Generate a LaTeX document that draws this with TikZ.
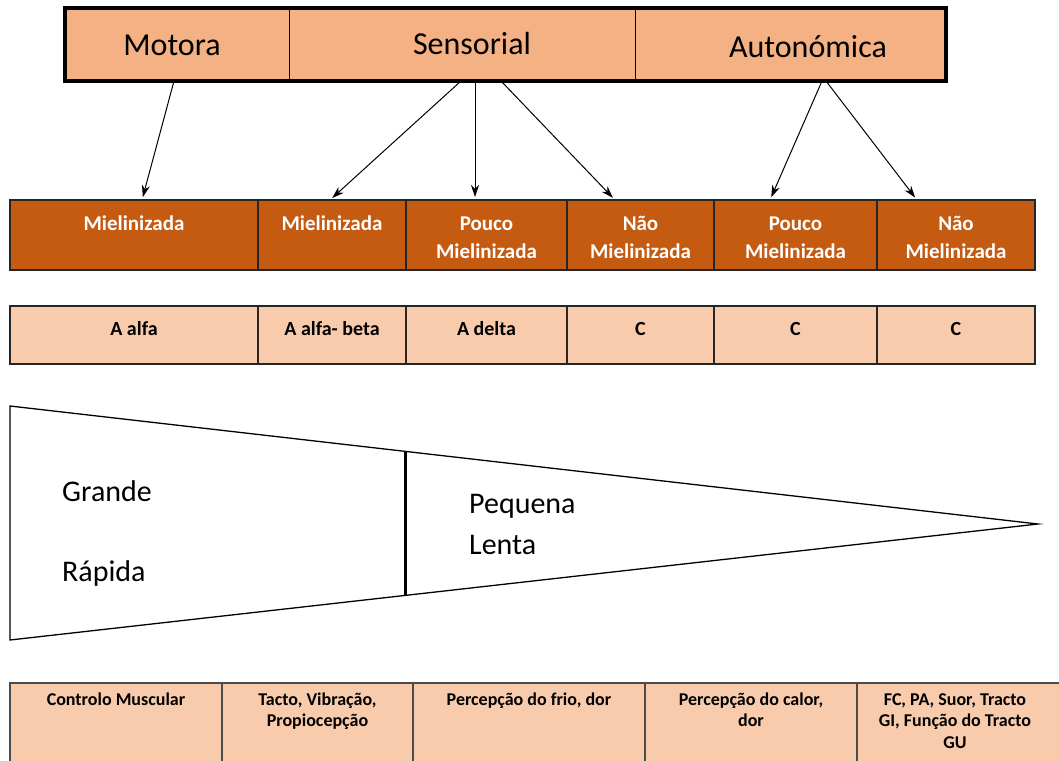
\documentclass[tikz,border=0pt]{standalone}
\usepackage{fontspec}
\setmainfont{Carlito}
\usetikzlibrary{arrows.meta,calc}
\definecolor{topfill}{HTML}{F4B183}
\definecolor{darkor}{HTML}{C55A11}
\definecolor{peach}{HTML}{F8CBAD}
\tikzset{
  topcell/.style={draw=black, line width=1pt, fill=topfill, minimum height=73pt, inner sep=0pt, outer sep=0pt},
  midcell/.style={draw=black!85, line width=1.8pt, fill=darkor, minimum height=70pt, inner sep=0pt, outer sep=0pt},
  typecell/.style={draw=black!85, line width=1.8pt, fill=peach, minimum height=58pt, inner sep=0pt, outer sep=0pt},
  funccell/.style={draw=black!70, line width=1.8pt, fill=peach, minimum height=107pt, inner sep=0pt, outer sep=0pt},
  toplabel/.style={font=\fontsize{32}{38}\selectfont, anchor=base, inner sep=0pt},
  midtext/.style={font=\bfseries\fontsize{21}{28}\selectfont, text=white, align=center, anchor=north, inner sep=0pt},
  typetext/.style={font=\bfseries\fontsize{20}{26}\selectfont, align=center, anchor=north, inner sep=0pt},
  functext/.style={font=\bfseries\fontsize{18}{21.5}\selectfont, align=center, anchor=north, inner sep=0pt},
  bigtext/.style={font=\fontsize{30}{36}\selectfont, anchor=base west, inner sep=0pt},
  arr/.style={-{Stealth[length=12pt,width=8pt]}, line width=1pt, shorten >=3pt},
}
\newcommand{\fs}[1]{\rule{0pt}{#1}}
\begin{document}
\begin{tikzpicture}[x=1pt,y=-1pt]
\useasboundingbox (0,0) rectangle (1059,760);
\clip (0,0) rectangle (1059,760);
\fill[white] (0,0) rectangle (1059,760);

% top row
\node[topcell, minimum width=224pt] (mot) at (177,44.5) {};
\node[topcell, minimum width=346pt] (sen) at (462,44.5) {};
\node[topcell, minimum width=311pt] (aut) at (790.5,44.5) {};
\draw[line width=3.5pt] (mot.north west) rectangle (aut.south east);
\node[toplabel] (tmot) at (172,56) {Motora};
\node[toplabel] (tsen) at (472,55) {Sensorial};
\node[toplabel] (taut) at (808,57) {Autonómica};

% second row
\node[midcell, minimum width=248pt] (m1) at (134,235) {};
\node[midcell, minimum width=148pt] (m2) at (332,235) {};
\node[midcell, minimum width=161pt] (m3) at (486.5,235) {};
\node[midcell, minimum width=147pt] (m4) at (640.5,235) {};
\node[midcell, minimum width=163pt] (m5) at (795.5,235) {};
\node[midcell, minimum width=158pt] (m6) at (956,235) {};
\node[midtext] (tm1) at ([yshift=-15pt]m1.north) {\fs{15pt}Mielinizada};
\node[midtext] (tm2) at ([yshift=-15pt]m2.north) {\fs{15pt}Mielinizada};
\node[midtext] (tm3) at ([yshift=-15pt]m3.north) {\fs{15pt}Pouco\\Mielinizada};
\node[midtext] (tm4) at ([yshift=-15pt]m4.north) {\fs{15pt}Não\\Mielinizada};
\node[midtext] (tm5) at ([yshift=-15pt]m5.north) {\fs{15pt}Pouco\\Mielinizada};
\node[midtext] (tm6) at ([yshift=-15pt]m6.north) {\fs{15pt}Não\\Mielinizada};

% third row
\node[typecell, minimum width=248pt] (a1) at (134,335) {};
\node[typecell, minimum width=148pt] (a2) at (332,335) {};
\node[typecell, minimum width=161pt] (a3) at (486.5,335) {};
\node[typecell, minimum width=147pt] (a4) at (640.5,335) {};
\node[typecell, minimum width=163pt] (a5) at (795.5,335) {};
\node[typecell, minimum width=158pt] (a6) at (956,335) {};
\node[typetext] (ta1) at ([yshift=-14pt]a1.north) {\fs{15pt}A alfa};
\node[typetext] (ta2) at ([yshift=-14pt]a2.north) {\fs{15pt}A alfa- beta};
\node[typetext] (ta3) at ([yshift=-14pt]a3.north) {\fs{15pt}A delta};
\node[typetext] (ta4) at ([yshift=-14pt]a4.north) {\fs{15pt}C};
\node[typetext] (ta5) at ([yshift=-14pt]a5.north) {\fs{15pt}C};
\node[typetext] (ta6) at ([yshift=-14pt]a6.north) {\fs{15pt}C};

% arrows
\draw[arr] ([xshift=-3pt]mot.south) -- ([xshift=8pt]m1.north);
\draw[arr] ([xshift=-1pt]sen.south) -- ([xshift=-2pt]m2.north);
\draw[arr] ([xshift=13pt]sen.south) -- ([xshift=-11.5pt]m3.north);
\draw[arr] ([xshift=39pt]sen.south) -- ([xshift=-25.5pt]m4.north);
\draw[arr] ([xshift=31.5pt]aut.south) -- ([xshift=-25.5pt]m5.north);
\draw[arr] ([xshift=35.5pt]aut.south) -- ([xshift=-39pt]m6.north);

% funnel
\coordinate (fa) at (10,406);
\coordinate (fb) at (10,640);
\coordinate (ft) at (1038,524);
\draw[line width=1.3pt, line join=miter] (fa) -- (ft) -- (fb) -- cycle;
\draw[line width=2.6pt] ($(fa)!0.385!(ft)$) -- ($(fb)!0.385!(ft)$);
\node[bigtext] (tg) at (62,501) {Grande};
\node[bigtext] (tr) at (62,581) {Rápida};
\node[bigtext] (tp) at (469,513) {Pequena};
\node[bigtext] (tl) at (469,554) {Lenta};

% bottom row
\node[funccell, minimum width=212pt] (f1) at (116,736.5) {};
\node[funccell, minimum width=191pt] (f2) at (317.5,736.5) {};
\node[funccell, minimum width=232pt] (f3) at (529,736.5) {};
\node[funccell, minimum width=212pt] (f4) at (751,736.5) {};
\node[funccell, minimum width=218pt] (f5) at (966,736.5) {};
\node[functext] (tf1) at ([yshift=-8pt]f1.north) {\fs{14pt}Controlo Muscular};
\node[functext] (tf2) at ([yshift=-8pt]f2.north) {\fs{14pt}Tacto, Vibração,\\Propiocepção};
\node[functext] (tf3) at ([yshift=-8pt]f3.north) {\fs{14pt}Percepção do frio, dor};
\node[functext] (tf4) at ([yshift=-8pt]f4.north) {\fs{14pt}Percepção do calor,\\dor};
\node[functext] (tf5) at ([xshift=-11pt,yshift=-8pt]f5.north) {\fs{14pt}FC, PA, Suor, Tracto\\GI, Função do Tracto\\GU};
\end{tikzpicture}
\end{document}
